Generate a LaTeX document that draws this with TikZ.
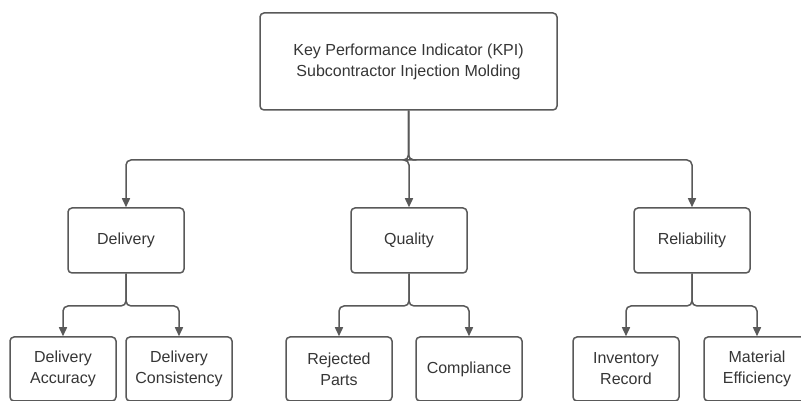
\documentclass[tikz,border=0pt]{standalone}
\usepackage{fontspec}
\setmainfont{Liberation Sans}
\usepackage{tikz}
\usetikzlibrary{positioning, arrows.meta, calc}
\definecolor{kpiline}{HTML}{595959}
\definecolor{kpitext}{HTML}{363636}
\tikzset{
  % --- KPI tree boxes ---
  kpibox/.style={
    draw=kpiline, fill=white, rectangle, rounded corners=4pt, line width=1.5pt,
    text=kpitext, font=\fontsize{16}{21}\selectfont, align=center, inner sep=2pt,
  },
  kpiroot/.style={kpibox, minimum width=297pt, minimum height=97pt},
  kpigroup/.style={kpibox, minimum width=116pt, minimum height=65pt},
  kpileaf/.style={kpibox, minimum width=106pt, minimum height=64pt},
  % --- connectors ---
  kpiarrow/.style={-{Triangle[length=9pt, width=8pt]}, draw=kpiline,
    line width=1.5pt, rounded corners=5pt},
}

\begin{document}
\begin{tikzpicture}[x=1pt, y=1pt]
    \clip (0,0) rectangle (801,401);
    \fill[white] (0,0) rectangle (801,401);
    % ---- Root ----
    \node[kpiroot] (kpi) at (408.5,339.5) {Key Performance Indicator (KPI)\\Subcontractor Injection Molding};
    % ---- Groups ----
    \node[kpigroup] (del) at (126,160.5) {Delivery};
    \node[kpigroup] (qua) at (409,160.5) {Quality};
    \node[kpigroup] (rel) at (692,160.5) {Reliability};
    % ---- Leaves ----
    \node[kpileaf] (delacc) at (63,32) {Delivery\\Accuracy};
    \node[kpileaf] (delcon) at (179,32) {Delivery\\Consistency};
    \node[kpileaf] (rejpar) at (339,32) {Rejected\\Parts};
    \node[kpileaf] (compl) at (469,32) {Compliance};
    \node[kpileaf] (invrec) at (626,32) {Inventory\\Record};
    \node[kpileaf] (mateff) at (757,32) {Material\\Efficiency};
    % ---- Root to groups ----
    \foreach \g in {del,qua,rel}{ \draw[kpiarrow] (kpi.south) -- (kpi.south |- 0,241) -| (\g.north); }
    % ---- Groups to leaves ----
    \foreach \g/\l in {del/delacc,del/delcon,qua/rejpar,qua/compl,rel/invrec,rel/mateff}{
      \draw[kpiarrow] (\g.south) -- (\g.south |- 0,95) -| (\l.north);
    }
\end{tikzpicture}
\end{document}
